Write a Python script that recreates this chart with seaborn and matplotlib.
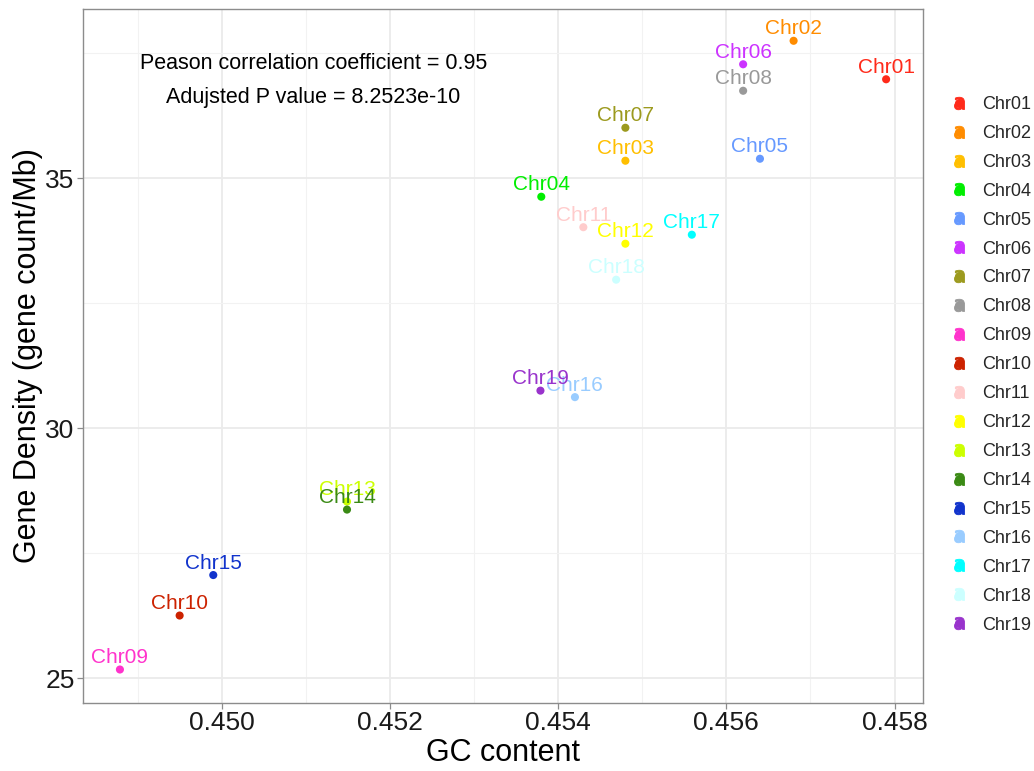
import matplotlib
matplotlib.use("Agg")
import matplotlib.pyplot as plt
from matplotlib.lines import Line2D
from matplotlib.legend_handler import HandlerTuple
from matplotlib.ticker import MultipleLocator
import seaborn as sns
import pandas as pd

# Per-chromosome GC content and gene density
chromosomes = ["Chr01", "Chr02", "Chr03", "Chr04", "Chr05", "Chr06", "Chr07",
               "Chr08", "Chr09", "Chr10", "Chr11", "Chr12", "Chr13", "Chr14",
               "Chr15", "Chr16", "Chr17", "Chr18", "Chr19"]
gc_content = [0.45790, 0.45680, 0.45480, 0.45380, 0.45640, 0.45620, 0.45480,
              0.45620, 0.44879, 0.44950, 0.45430, 0.45480, 0.45149, 0.45149,
              0.44990, 0.45420, 0.45559, 0.45469, 0.45379]
gene_density = [36.98, 37.75, 35.35, 34.63, 35.39, 37.28, 36.01,
                36.75, 25.17, 26.25, 34.02, 33.69, 28.53, 28.37,
                27.06, 30.62, 33.87, 32.97, 30.75]
chr_colors = ["#FF2A1A", "#FF8C00", "#FFBF00", "#00EE00", "#6699FF", "#CC33FF",
              "#9C9A1E", "#999999", "#FF33CC", "#CC2200", "#FFCCCC", "#FFFF00",
              "#CCFF00", "#3A8A14", "#1133CC", "#99CCFF", "#00FFFF", "#CCFFFF",
              "#9933CC"]

stats_lines = ["Peason correlation coefficient = 0.95",
               "Adujsted P value = 8.2523e-10"]

df = pd.DataFrame({"chr": chromosomes, "gc": gc_content, "density": gene_density})
palette = dict(zip(chromosomes, chr_colors))

sns.set_theme(style="white")
plt.rcParams["font.family"] = ["Liberation Sans", "DejaVu Sans"]

W, H = 1034, 771
fig = plt.figure(figsize=(W / 100, H / 100), dpi=100)
ax = fig.add_axes([83 / W, (H - 703) / H, (922.7 - 83) / W, (703 - 9) / H])

sns.scatterplot(data=df, x="gc", y="density", hue="chr", palette=palette,
                s=34, edgecolor="none", linewidth=0, legend=False, ax=ax, zorder=3)

for name, x, y, c in zip(chromosomes, gc_content, gene_density, chr_colors):
    ax.annotate(name, (x, y), xytext=(0, 4.6), textcoords="offset points",
                ha="center", va="baseline", color=c, fontsize=15, zorder=4)

ax.text(0.45109, 37.19, stats_lines[0], ha="center", va="baseline",
        fontsize=15.5, color="black")
ax.text(0.45109, 36.50, stats_lines[1], ha="center", va="baseline",
        fontsize=15.5, color="black")

ax.set_xlim(0.448351, 0.458335)
ax.set_ylim(24.5, 38.386)
ax.xaxis.set_major_locator(MultipleLocator(0.002))
ax.xaxis.set_minor_locator(MultipleLocator(0.001))
ax.yaxis.set_major_locator(MultipleLocator(5))
ax.yaxis.set_minor_locator(MultipleLocator(2.5))
ax.xaxis.set_major_formatter(matplotlib.ticker.FormatStrFormatter("%.3f"))

ax.grid(which="major", color="#EBEBEB", linewidth=1.3, zorder=0)
ax.grid(which="minor", color="#F2F2F2", linewidth=0.8, zorder=0)
ax.set_axisbelow(True)
for sp in ax.spines.values():
    sp.set_color("#8C8C8C")
    sp.set_linewidth(1.0)

ax.tick_params(which="major", direction="out", length=4, width=0.9,
               color="#8C8C8C", labelsize=19, labelcolor="#1A1A1A", pad=2,
               bottom=True, left=True)
ax.tick_params(which="minor", length=0)

ax.set_xlabel("GC content", fontsize=22, color="black", labelpad=2)
ax.set_ylabel("Gene Density (gene count/Mb)", fontsize=22, color="black", labelpad=2)

# Legend keys: a letter glyph overlaid with a point, as in text+point layers
handles = []
for c in chr_colors:
    letter = Line2D([], [], linestyle="none", marker=r"$\mathsf{a}$", markersize=9,
                    markerfacecolor=c, markeredgecolor=c, markeredgewidth=0.6)
    dot = Line2D([], [], linestyle="none", marker="o", markersize=5.5,
                 markerfacecolor=c, markeredgecolor=c)
    handles.append((letter, dot))

fig.legend(handles, chromosomes,
           handler_map={tuple: HandlerTuple(ndivide=1, pad=0)},
           loc="upper left", bbox_to_anchor=(950 / W, 1 - 96 / H),
           frameon=False, fontsize=13, labelspacing=0.66, handlelength=1.0,
           handletextpad=0.8, borderpad=0, borderaxespad=0)

fig.savefig("out.png", dpi=100, facecolor="white")
